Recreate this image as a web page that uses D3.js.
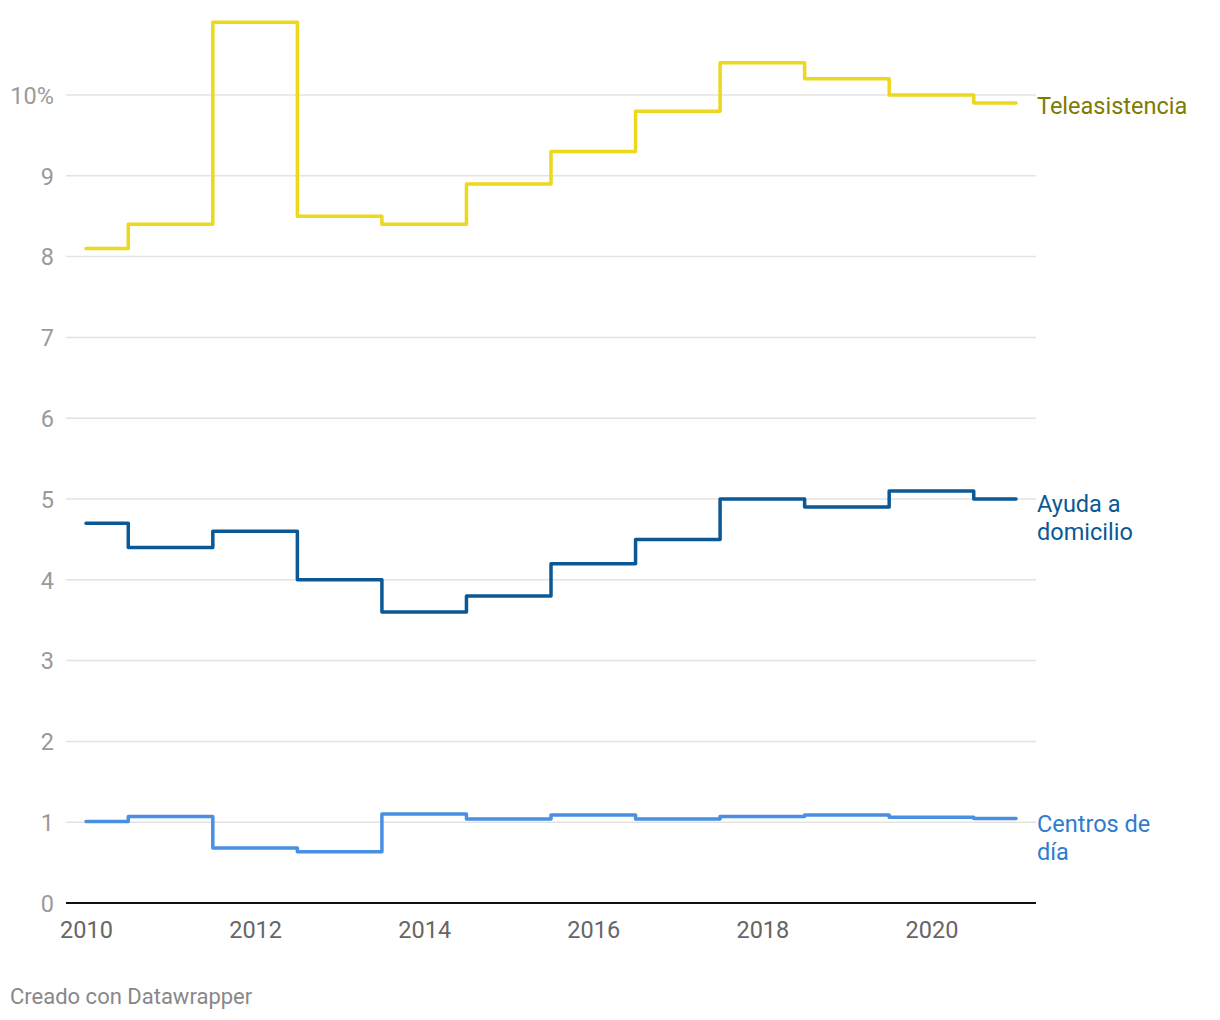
<!DOCTYPE html>
<html><head><meta charset="utf-8">
<script src="https://cdn.jsdelivr.net/npm/d3@7"></script>
<style>body{margin:0;background:#fff;font-family:Roboto,sans-serif}</style>
</head><body><svg id="c" width="1220" height="1020"></svg>
<script>
const years = [2010,2011,2012,2013,2014,2015,2016,2017,2018,2019,2020,2021];
const teleasistencia = [8.1,8.4,10.9,8.5,8.4,8.9,9.3,9.8,10.4,10.2,10.0,9.9];
const ayuda = [4.7,4.4,4.6,4.0,3.6,3.8,4.2,4.5,5.0,4.9,5.1,5.0];
const centros = [1.01,1.07,0.68,0.635,1.10,1.04,1.09,1.04,1.07,1.09,1.06,1.045];
const yTicks = [0,1,2,3,4,5,6,7,8,9,10];
const xTicks = [2010,2012,2014,2016,2018,2020];
const seriesNames = ["Teleasistencia","Ayuda a|domicilio","Centros de|día"];

const svg = d3.select("#c");
const x = d3.scaleLinear().domain([2010,2021]).range([86,1016]);
const y = d3.scaleLinear().domain([0,10]).range([903,95]);

const grid = svg.append("g");
yTicks.filter(t=>t>0).forEach(t=>{
  grid.append("line").attr("x1",66).attr("x2",1036).attr("y1",y(t)).attr("y2",y(t))
    .attr("stroke","#e3e3e3").attr("stroke-width",1.5);
});
const yAxis = d3.axisLeft(y).tickValues(yTicks).tickSize(0).tickPadding(0)
  .tickFormat(d=> d===10 ? "10%" : d);
const ya = svg.append("g").attr("transform","translate(54,0)").call(yAxis);
ya.select(".domain").remove();
ya.selectAll("text").attr("fill","#9a9a9a").attr("font-size","23.5px").attr("font-family","Roboto").attr("dy","0.35em");

const xAxis = d3.axisBottom(x).tickValues(xTicks).tickSize(0).tickPadding(0).tickFormat(d3.format("d"));
const xa = svg.append("g").attr("transform","translate(0,903)").call(xAxis);
xa.select(".domain").remove();
xa.selectAll("text").attr("fill","#666").attr("font-size","23.5px").attr("font-family","Roboto").attr("dy","1.48em");
svg.append("line").attr("x1",66).attr("x2",1036).attr("y1",y(0)).attr("y2",y(0)).attr("stroke","#111").attr("stroke-width",2);

const line = d3.line().x((d,i)=>x(years[i])).y(d=>y(d)).curve(d3.curveStep);
const data = [teleasistencia, ayuda, centros];
const colors = ["#ecd81c","#0b5896","#4a90e2"];
const labelColors = ["#807a00","#0b5896","#2f7bd0"];
data.forEach((s,k)=>{
  svg.append("path").attr("d",line(s)).attr("fill","none").attr("stroke",colors[k])
    .attr("stroke-width",3.5).attr("stroke-linejoin","round").attr("stroke-linecap","round");
});
const labelY = [y(teleasistencia[11])+11, y(ayuda[11])+13, y(centros[11])+13];
seriesNames.forEach((n,k)=>{
  const t = svg.append("text").attr("x",1037).attr("y",labelY[k]).attr("fill",labelColors[k])
    .attr("font-size","23.5px").attr("font-family","Roboto");
  n.split("|").forEach((p,j)=>t.append("tspan").attr("x",1037).attr("dy",j? "1.2em":0).text(p));
});
svg.append("text").attr("x",10).attr("y",1004).attr("fill","#888").attr("font-size","22px")
  .attr("font-family","Roboto").text("Creado con Datawrapper");
</script></body></html>
